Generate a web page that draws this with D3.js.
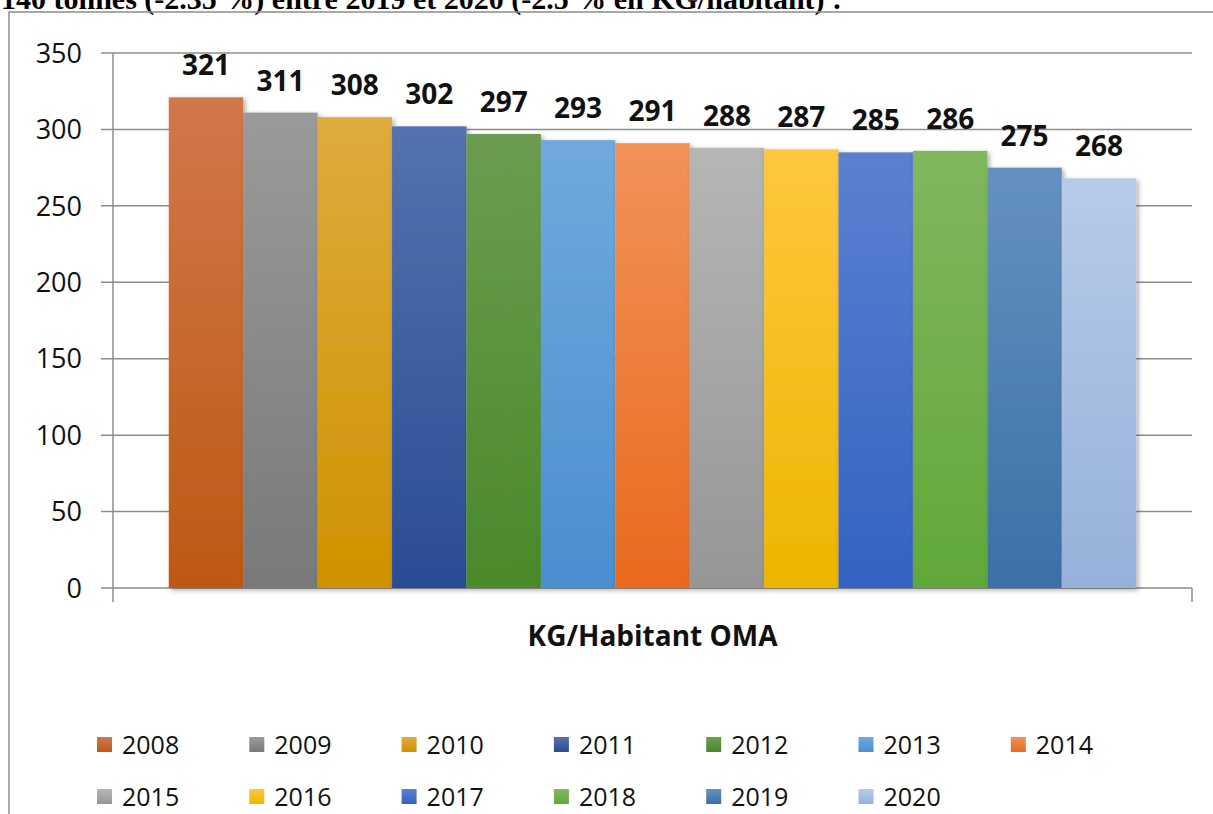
<!DOCTYPE html>
<html>
<head>
<meta charset="utf-8">
<script src="https://cdn.jsdelivr.net/npm/d3@7"></script>
<style>
  body { margin: 0; background: #fff; }
  svg { display: block; }
</style>
</head>
<body>
<div id="chart"></div>
<script>
const years = ["2008", "2009", "2010", "2011", "2012", "2013", "2014", "2015", "2016", "2017", "2018", "2019", "2020"];
const values = [321, 311, 308, 302, 297, 293, 291, 288, 287, 285, 286, 275, 268];
const yTicks = [0, 50, 100, 150, 200, 250, 300, 350];
const axisTitle = "KG/Habitant OMA";
const heading = "140 tonnes (-2.35 %) entre 2019 et 2020 (-2.5 % en KG/habitant) :";

// light top / dark bottom for each bar
const topColors = ["#d0784a", "#9a9a9a", "#dfab3e", "#5472b0", "#6c9c50", "#70a9de", "#f2925a", "#b6b6b6", "#ffc73e", "#5b80d0", "#80b75e", "#6491bf", "#b7cbe9"];
const bottomColors = ["#bf5815", "#797979", "#cf9200", "#2a4c93", "#4a8a2a", "#4a8ecf", "#e96a1c", "#969696", "#ecb600", "#3363c3", "#61a83a", "#3c70a7", "#96b1da"];

const w = 1213;
const h = 814;

const svg = d3
  .select("#chart")
  .append("svg")
  .attr("width", w)
  .attr("height", h);

const defs = svg.append("defs");

const topColor = d3.scaleOrdinal().domain(years).range(topColors);
const bottomColor = d3.scaleOrdinal().domain(years).range(bottomColors);

years.forEach((yr) => {
  const g = defs
    .append("linearGradient")
    .attr("id", "grad" + yr)
    .attr("x1", 0)
    .attr("y1", 0)
    .attr("x2", 0)
    .attr("y2", 1);
  g.append("stop").attr("offset", "0%").attr("stop-color", topColor(yr));
  g.append("stop").attr("offset", "100%").attr("stop-color", bottomColor(yr));
});

const shadow = defs
  .append("filter")
  .attr("id", "shadow")
  .attr("x", "-20%")
  .attr("y", "-20%")
  .attr("width", "140%")
  .attr("height", "140%");
shadow
  .append("feDropShadow")
  .attr("dx", 2)
  .attr("dy", 2)
  .attr("stdDeviation", 2.5)
  .attr("flood-color", "#000")
  .attr("flood-opacity", 0.35);

// heading, cut off by the top edge as in the source page
svg
  .append("text")
  .attr("x", 1)
  .attr("y", 9)
  .attr("font-family", "Liberation Serif")
  .attr("font-weight", "bold")
  .attr("font-size", "30px")
  .attr("fill", "#000")
  .text(heading);

// chart frame
svg
  .append("rect")
  .attr("x", 9)
  .attr("y", 12)
  .attr("width", 1260)
  .attr("height", 900)
  .attr("fill", "none")
  .attr("stroke", "#8c8c8c")
  .attr("stroke-width", 1.5);

const y = d3.scaleLinear().domain([0, 350]).range([588, 53]);
const x = d3
  .scaleBand()
  .domain(years)
  .range([113, 1192])
  .paddingInner(0)
  .paddingOuter(0.75);

// grid lines + left ticks
svg
  .selectAll("line.grid")
  .data(yTicks)
  .join("line")
  .attr("class", "grid")
  .attr("x1", 101)
  .attr("x2", 1192)
  .attr("y1", (d) => y(d))
  .attr("y2", (d) => y(d))
  .attr("stroke", "#8c8c8c")
  .attr("stroke-width", 1.5);

// y axis line
svg
  .append("line")
  .attr("x1", 113)
  .attr("x2", 113)
  .attr("y1", y(350))
  .attr("y2", y(0) + 14)
  .attr("stroke", "#8c8c8c")
  .attr("stroke-width", 1.5);

// right end tick of category axis
svg
  .append("line")
  .attr("x1", 1192)
  .attr("x2", 1192)
  .attr("y1", y(0))
  .attr("y2", y(0) + 14)
  .attr("stroke", "#8c8c8c")
  .attr("stroke-width", 1.5);

svg
  .selectAll("text.ytick")
  .data(yTicks)
  .join("text")
  .attr("class", "ytick")
  .attr("x", 82)
  .attr("y", (d) => y(d))
  .attr("dy", "0.36em")
  .attr("text-anchor", "end")
  .attr("font-family", "Open Sans")
  .attr("font-size", "27px")
  .attr("fill", "#111")
  .text((d) => d);

// bars
svg
  .selectAll("rect.bar")
  .data(years)
  .join("rect")
  .attr("class", "bar")
  .attr("x", (d) => x(d))
  .attr("y", (d, i) => y(values[i]))
  .attr("width", x.bandwidth())
  .attr("height", (d, i) => y(0) - y(values[i]))
  .attr("fill", (d) => `url(#grad${d})`)
  .attr("filter", "url(#shadow)");

// value labels
svg
  .selectAll("text.val")
  .data(years)
  .join("text")
  .attr("class", "val")
  .attr("x", (d) => x(d) + x.bandwidth() / 2)
  .attr("y", (d, i) => y(values[i]) - 22)
  .attr("text-anchor", "middle")
  .attr("font-family", "Open Sans")
  .attr("font-weight", "bold")
  .attr("font-size", "28px")
  .attr("fill", "#111")
  .text((d, i) => values[i]);

// axis title
svg
  .append("text")
  .attr("x", (113 + 1192) / 2)
  .attr("y", 646)
  .attr("text-anchor", "middle")
  .attr("font-family", "Open Sans")
  .attr("font-weight", "bold")
  .attr("font-size", "28px")
  .attr("fill", "#111")
  .text(axisTitle);

// legend
const legend = svg
  .selectAll("g.legend-item")
  .data(years)
  .join("g")
  .attr("class", "legend-item")
  .attr("transform", (d, i) => {
    return "translate(" + (97 + (i % 7) * 152.3) + "," + (745 + Math.floor(i / 7) * 52) + ")";
  });

legend
  .append("rect")
  .attr("x", 0)
  .attr("y", -8)
  .attr("width", 15)
  .attr("height", 15)
  .attr("fill", (d) => `url(#grad${d})`);

legend
  .append("text")
  .attr("x", 25)
  .attr("y", 0)
  .attr("dy", "0.36em")
  .attr("font-family", "Open Sans")
  .attr("font-size", "25px")
  .attr("fill", "#111")
  .text((d) => d);
</script>
</body>
</html>
